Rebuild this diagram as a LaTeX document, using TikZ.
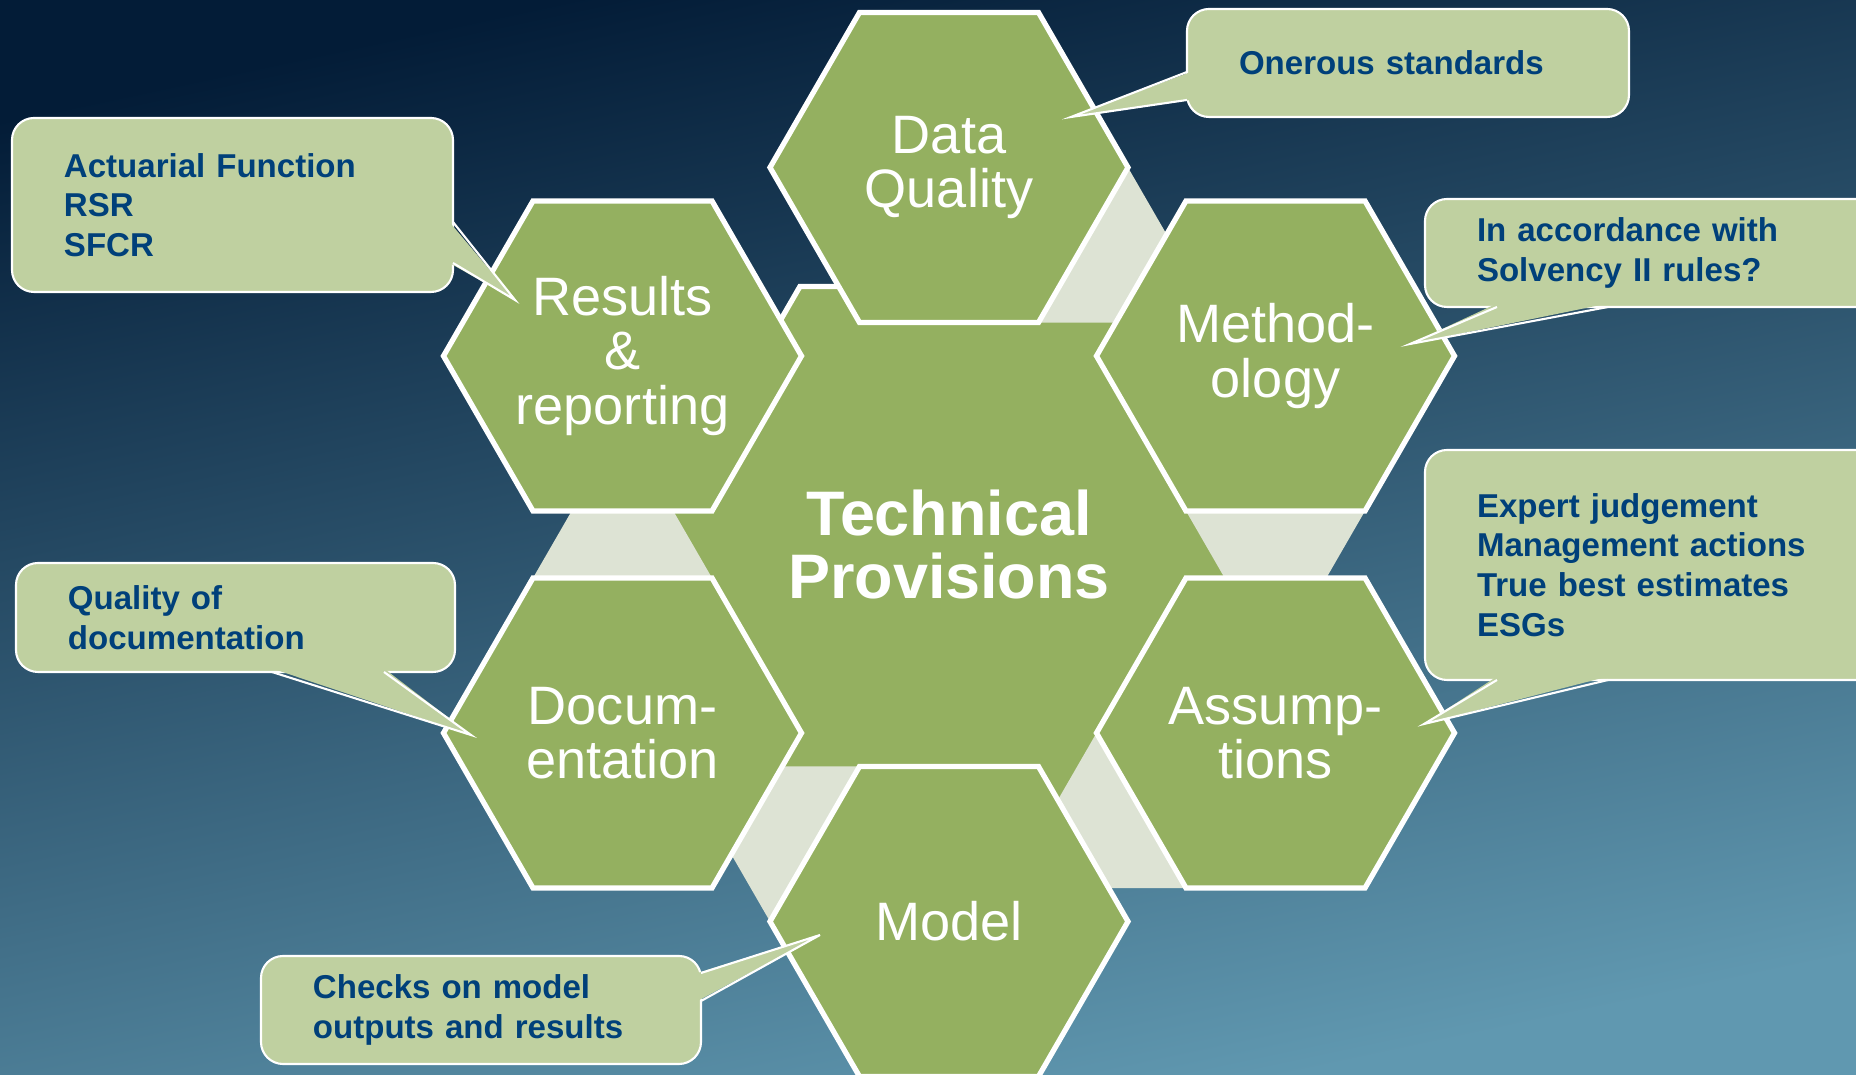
\documentclass[tikz,border=0pt]{standalone}
\usepackage{fontspec}
\setmainfont{Liberation Sans}
\usetikzlibrary{shapes.geometric,calc}

\definecolor{slidetop}{RGB}{3,28,55}
\definecolor{slidemid}{RGB}{22,80,122}
\definecolor{slidebot}{RGB}{96,152,176}
\definecolor{hexgreen}{RGB}{148,176,96}
\definecolor{gapgrey}{RGB}{221,227,212}
\definecolor{notebg}{RGB}{191,208,160}
\definecolor{notetext}{RGB}{0,64,122}

\begin{document}
\begin{tikzpicture}[
    hexcell/.style={regular polygon, regular polygon sides=6, minimum size=3.58cm,
      inner sep=0pt, fill=hexgreen, draw=white, line width=1.5pt, text=white,
      align=center, font=\fontsize{15.4}{15.5}\selectfont},
    hexcore/.style={hexcell, minimum size=5.96cm, font=\fontsize{17.9}{17.9}\selectfont\bfseries},
    gap/.style={fill=gapgrey},
    note/.style={rectangle, rounded corners=2.2mm, fill=notebg, draw=white, line width=0.6pt,
      outer sep=0pt, inner xsep=5.2mm, inner ysep=0pt, text=notetext, align=left,
      font=\fontsize{9.4}{11.3}\selectfont\bfseries, text width=#1},
    tail/.style={draw=white, line width=0.6pt}
]
  % slide background
  \useasboundingbox (-9.49,-5.305) rectangle (9.07,5.445);
  \clip (-9.49,-5.305) rectangle (9.07,5.445);
  \shade[top color=slidetop, middle color=slidemid, bottom color=slidebot, shading angle=12]
    (-9.49,-5.305) rectangle (9.07,5.445);

  \node[hexcore] (tp) at (0,0) {Technical\\Provisions};

  % light wedges sitting on one edge of the outer cells (none after the last one)
  \foreach \a in {90,30,-30,-90,-150}
    \fill[gap] (\a:3.77) ++(\a-90:1.79) -- ++(\a-210:1.79) -- ++(\a-90:1.79) -- cycle;

  \node[hexcell] (dq)    at (90:3.77)   {Data\\Quality};
  \node[hexcell] (meth)  at (30:3.77)   {Method-\\ology};
  \node[hexcell] (assum) at (-30:3.77)  {Assump-\\tions};
  \node[hexcell] (model) at (-90:3.77)  {Model};
  \node[hexcell] (docu)  at (-150:3.77) {Docum-\\entation};
  \node[hexcell] (res)   at (150:3.77)  {Results\\\&\\reporting};

  % callouts
  \node[note=3.38cm, minimum height=1.08cm] (dqnote) at (4.59,4.815) {Onerous standards};
  \node[note=3.37cm, minimum height=1.74cm] (resnote) at (-7.165,3.395) {Actuarial Function\\RSR\\SFCR};
  \node[note=3.51cm, minimum height=1.08cm] (methnote) at (7.035,2.915) {In accordance with\\Solvency II rules?};
  \node[note=3.51cm, minimum height=2.30cm] (assumnote) at (7.035,-0.205) {Expert judgement\\Management actions\\True best estimates\\ESGs};
  \node[note=3.35cm, minimum height=1.09cm] (docnote) at (-7.135,-0.73) {Quality of\\documentation};
  \node[note=3.36cm, minimum height=1.08cm] (modelnote) at (-4.68,-4.655) {Checks on model\\outputs and results};

  \coordinate (dqtip) at (1.22,4.275);
  \coordinate (restip) at (-4.34,2.445);
  \coordinate (methtip) at (4.61,2.005);
  \coordinate (assumtip) at (4.75,-1.795);
  \coordinate (doctip) at (-4.78,-1.905);
  \coordinate (modeltip) at (-1.29,-3.905);

  % tails: the wedge is filled first, then its two outer sides
  \fill[notebg] ([xshift=1pt,yshift=-0.9mm]dqnote.west) -- (dqtip) -- ([xshift=1pt,yshift=-3.7mm]dqnote.west) -- cycle;
  \draw[tail] ([yshift=-0.9mm]dqnote.west) -- (dqtip) -- ([yshift=-3.7mm]dqnote.west);

  \fill[notebg] ([xshift=-1pt,yshift=-1.7mm]resnote.east) -- (restip) -- ([xshift=-1pt,yshift=-5.8mm]resnote.east) -- cycle;
  \draw[tail] ([yshift=-1.7mm]resnote.east) -- (restip) -- ([yshift=-5.8mm]resnote.east);

  \fill[notebg] ([yshift=1pt,xshift=-15.55mm]methnote.south) -- (methtip) -- ([yshift=1pt,xshift=-4.45mm]methnote.south) -- cycle;
  \draw[tail] ([xshift=-15.55mm]methnote.south) -- (methtip) -- ([xshift=-4.45mm]methnote.south);

  \fill[notebg] ([yshift=1pt,xshift=-15.55mm]assumnote.south) -- (assumtip) -- ([yshift=1pt,xshift=-4.45mm]assumnote.south) -- cycle;
  \draw[tail] ([xshift=-15.55mm]assumnote.south) -- (assumtip) -- ([xshift=-4.45mm]assumnote.south);

  \fill[notebg] ([yshift=1pt,xshift=3.65mm]docnote.south) -- (doctip) -- ([yshift=1pt,xshift=14.85mm]docnote.south) -- cycle;
  \draw[tail] ([xshift=3.65mm]docnote.south) -- (doctip) -- ([xshift=14.85mm]docnote.south);

  \fill[notebg] ([xshift=-1pt,yshift=3.7mm]modelnote.east) -- (modeltip) -- ([xshift=-1pt,yshift=0.9mm]modelnote.east) -- cycle;
  \draw[tail] ([yshift=3.7mm]modelnote.east) -- (modeltip) -- ([yshift=0.9mm]modelnote.east);
\end{tikzpicture}
\end{document}
